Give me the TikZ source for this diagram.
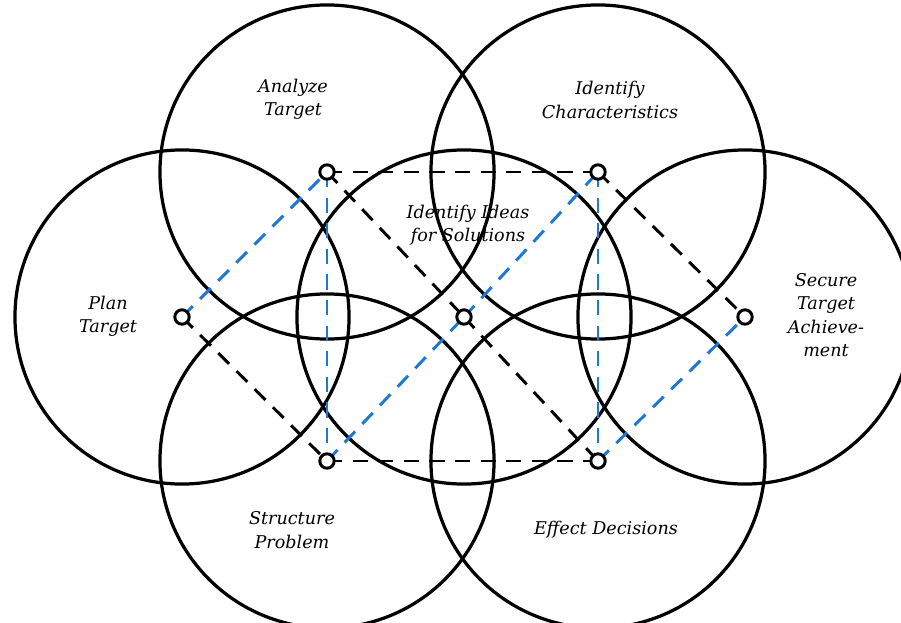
\documentclass[tikz,border=0pt]{standalone}
\usepackage{fontspec}
\setmainfont{DejaVu Serif}
\usetikzlibrary{positioning}
\definecolor{lineblue}{RGB}{28,120,210}
\tikzset{
    ring/.style={draw, circle, line width=2.3pt, minimum size=8.35cm, inner sep=0pt},
    hub/.style={draw, circle, line width=2.1pt, fill=white, minimum size=0.36cm, inner sep=0pt},
    lbl/.style={font=\fontsize{12.5}{16.5}\selectfont\itshape, align=center, inner sep=1pt},
    link/.style={line width=2.1pt, dash pattern=on 0.38cm off 0.26cm},
    blk/.style={link, black},
    blu/.style={link, lineblue},
}
\begin{document}
\begin{tikzpicture}[x=0.025cm, y=-0.025cm]
    \useasboundingbox (0,0) rectangle (901,623);
    \clip (0,0) rectangle (901,623);

    % Knotenpunkte
    \coordinate (pA) at (327,172);
    \coordinate (pB) at (598,172);
    \coordinate (pP) at (182,317);
    \coordinate (pC) at (464,317);
    \coordinate (pS) at (745,317);
    \coordinate (pD) at (327,461);
    \coordinate (pE) at (598,461);

    % Kreise
    \foreach \p in {pA,pB,pP,pC,pS,pD,pE} {
        \node[ring] (r\p) at (\p) {};
    }

    % Verbindungen
    \draw[blk] (pA) -- (pB);
    \draw[blk] (pD) -- (pE);
    \draw[blk] (pA) -- (pC);
    \draw[blk] (pC) -- (pE);
    \draw[blk] (pB) -- (pS);
    \draw[blk] (pP) -- (pD);

    \draw[blu] (pP) -- (pA);
    \draw[blu] (pA) -- (pD);
    \draw[blu] (pD) -- (pC);
    \draw[blu] (pC) -- (pB);
    \draw[blu] (pB) -- (pE);
    \draw[blu] (pE) -- (pS);

    % Punkte
    \foreach \p in {pA,pB,pP,pC,pS,pD,pE} {
        \node[hub] (h\p) at (\p) {};
    }

    % Beschriftungen
    \node[lbl] (tA) at (293,99)  {Analyze\\Target};
    \node[lbl] (tB) at (610,100) {Identify\\Characteristics};
    \node[lbl] (tC) at (468,225) {Identify Ideas\\for Solutions};
    \node[lbl] (tP) at (108,316) {Plan\\Target};
    \node[lbl] (tS) at (826,315) {Secure\\Target\\Achieve-\\ment};
    \node[lbl] (tD) at (292,530) {Structure\\Problem};
    \node[lbl] (tE) at (606,530) {Effect Decisions};
\end{tikzpicture}
\end{document}
